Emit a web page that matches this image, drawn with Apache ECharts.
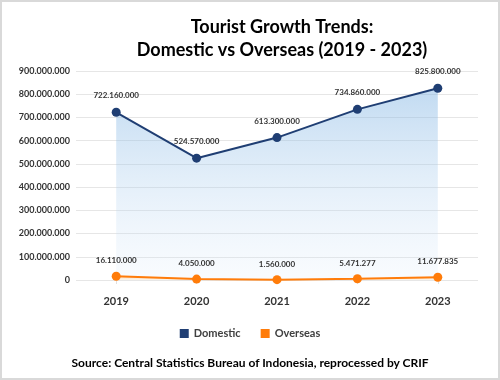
<!DOCTYPE html>
<html><head><meta charset="utf-8">
<script src="https://cdn.jsdelivr.net/npm/echarts@6/dist/echarts.min.js"></script>
<style>html,body{margin:0;padding:0;background:#fff}#c{width:500px;height:380px}</style>
</head><body><div id="c"></div>
<script>
const years = ['2019','2020','2021','2022','2023'];
const domestic = [722160000, 524570000, 613300000, 734860000, 825800000];
const overseas = [16110000, 4050000, 1560000, 5471277, 11677835];
const yTicks = [0,100000000,200000000,300000000,400000000,500000000,600000000,700000000,800000000,900000000];

function fmt(v){ return String(Math.round(v)).replace(/\B(?=(\d{3})+(?!\d))/g,'.'); }
const F = 'Lato, "Open Sans", sans-serif';
const chart = echarts.init(document.getElementById('c'));
chart.setOption({
  animation:false,
  backgroundColor:'#fff',
  graphic:[{type:'rect',shape:{x:1,y:1,width:498,height:378},style:{fill:'none',stroke:'#d9d9d9',lineWidth:2},silent:true}],
  title:{text:'Tourist Growth Trends:\nDomestic vs Overseas (2019 - 2023)',left:277,textAlign:'center',top:11,
    textStyle:{fontFamily:F,fontSize:18,fontWeight:'bold',color:'#000',lineHeight:23}},
  legend:{bottom:36,left:'center',itemWidth:9,itemHeight:9,itemGap:20,icon:'rect',
    textStyle:{fontFamily:F,fontSize:11,fontWeight:'bold',color:'#404040'},
    data:['Domestic','Overseas']},
  grid:{left:76,right:22,top:71,bottom:100},
  xAxis:{type:'category',data:years,boundaryGap:true,
    axisLine:{show:false},axisTick:{show:true,alignWithLabel:true,length:4,lineStyle:{color:'#e0e0e0'}},
    axisLabel:{fontFamily:F,fontSize:11,fontWeight:'bold',color:'#333',margin:16}},
  yAxis:{type:'value',min:0,max:900000000,interval:100000000,
    axisLine:{show:false},axisTick:{show:false},
    splitLine:{lineStyle:{color:'#e6e6e6'}},
    axisLabel:{fontFamily:F,fontSize:9,fontWeight:'bold',color:'#333',margin:6,formatter:v=>fmt(v)}},
  series:[
    {name:'Domestic',type:'line',data:domestic,color:'#1f3e73',symbol:'circle',symbolSize:9,
      lineStyle:{width:2,color:'#1f3e73'},itemStyle:{color:'#1f3e73'},
      areaStyle:{color:new echarts.graphic.LinearGradient(0,0,0,1,[{offset:0,color:'rgba(120,175,225,0.65)'},{offset:1,color:'rgba(220,235,250,0.25)'}])},
      label:{show:true,position:'top',distance:8,fontFamily:F,fontSize:8,fontWeight:'bold',color:'#333',formatter:p=>fmt(p.value)}},
    {name:'Overseas',type:'line',data:overseas,color:'#ff7c0a',symbol:'circle',symbolSize:9,
      lineStyle:{width:2,color:'#ff7c0a'},itemStyle:{color:'#ff7c0a'},
      areaStyle:{color:new echarts.graphic.LinearGradient(0,0,0,1,[{offset:0,color:'rgba(255,160,60,0.5)'},{offset:1,color:'rgba(255,220,170,0.3)'}])},
      label:{show:true,position:'top',distance:7,fontFamily:F,fontSize:8,fontWeight:'bold',color:'#333',formatter:p=>fmt(p.value)}}
  ]
});
</script>
<div style="position:absolute;left:0;top:355px;width:500px;text-align:center;font-family:Lato,'Open Sans',sans-serif;font-weight:bold;font-size:12px;color:#000">Source: Central Statistics Bureau of Indonesia, reprocessed by CRIF</div>
</body></html>
